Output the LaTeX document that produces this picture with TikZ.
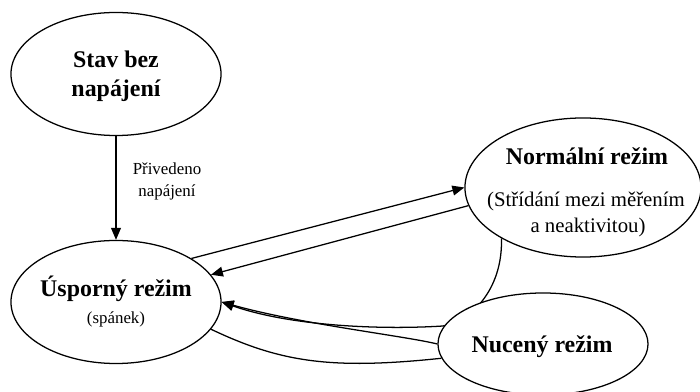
\documentclass[tikz,border=0pt]{standalone}
\usepackage{fontspec}
\setmainfont{Liberation Serif}
\usetikzlibrary{shapes.geometric,arrows.meta,backgrounds}

\tikzset{
  elipsa/.style={ellipse, draw, line width=0.9pt, fill=white, inner sep=0pt},
  nazev/.style={font=\fontsize{17}{20.5}\selectfont\bfseries, anchor=base},
  popis/.style={font=\fontsize{12}{15}\selectfont, anchor=base},
  mezi/.style={font=\fontsize{14.8}{18}\selectfont, anchor=base},
  sipka/.style={line width=0.9pt, -{Triangle[length=8.5pt,width=7pt]}},
  cara/.style={line width=0.9pt}
}

\begin{document}
\begin{tikzpicture}[x=0.025cm,y=-0.025cm] % 1 jednotka = 1 px
\clip (0,0) rectangle (700,392);

% stavy
\node[elipsa, minimum width=5.25cm, minimum height=3.075cm] (bez) at (116,74) {};
\node[elipsa, minimum width=5.25cm, minimum height=3.075cm] (uspor) at (116,302) {};
\node[elipsa, minimum width=5.9cm, minimum height=3.475cm] (norm) at (583,187.5) {};
\node[elipsa, minimum width=5.25cm, minimum height=2.55cm] (nuc) at (543,344) {};

\node[nazev] (bezT1) at (116,68) {Stav bez};
\node[nazev] (bezT2) at (116,97) {napájení};
\node[nazev] (usporT) at (116,297) {Úsporný režim};
\node[popis] (usporP) at (116,324) {(spánek)};
\node[nazev] (normT) at (587,165) {Normální režim};
\node[mezi] (normP1) at (586,207) {(Střídání mezi měřením};
\node[mezi] (normP2) at (588,233) {a neaktivitou)};
\node[nazev] (nucT) at (542,353) {Nucený režim};

% prechody
\begin{scope}[on background layer]
\draw[sipka] (bez.south) -- (uspor.north);
\node[popis] (privT1) at (167,175) {Přivedeno};
\node[popis] (privT2) at (167,197) {napájení};

\draw[sipka] (uspor.30) -- (norm.180);
\draw[sipka] (norm.189) -- (uspor.16);

\draw[sipka] (norm.212) .. controls (503,290) and (470,322) .. (443,326)
  .. controls (380,330) and (290,326) .. (uspor.east);
\draw[sipka] (nuc.west) .. controls (405,336) and (300,324) .. (uspor.east);
\draw[cara] (uspor.344) .. controls (280,362) and (330,370) .. (nuc.188);
\end{scope}
\end{tikzpicture}
\end{document}
